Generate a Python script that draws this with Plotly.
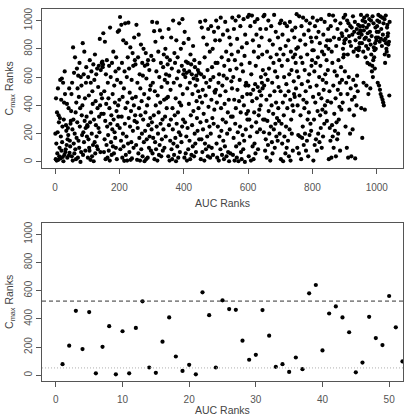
import plotly.graph_objects as go

# ---------------- DATA ----------------
# Top panel: Cmax ranks, in order of AUC rank, in blocks of AUC ranks
cmax_auc_0001_0050 = [200,20,450,130,10,350,60,210,520,15,330,280,40,100,310,580,25,180,440,80,590,140,250,35,560,5,300,420,50,640,480,70,90,260,220,120,410,30,160,240,190,380,45,520,65,150,110,270,290,360]
cmax_auc_0051_0100 = [480,40,560,230,10,810,300,130,630,60,200,740,90,350,20,420,170,660,280,520,30,610,150,460,100,700,250,380,0,600,70,540,330,190,400,840,50,210,620,140,780,290,450,80,240,560,670,320,180,260]
cmax_auc_0101_0150 = [250,30,600,160,470,100,80,720,280,15,560,350,640,200,40,500,410,120,690,5,300,580,140,760,60,430,260,620,180,110,660,380,90,530,240,680,320,210,870,400,70,650,480,340,700,450,710,670,690,910]
cmax_auc_0151_0200 = [340,70,500,160,850,290,20,620,410,120,720,250,30,560,190,450,80,680,380,10,950,270,600,140,330,50,700,230,480,110,780,300,60,540,210,420,170,640,100,740,360,20,580,260,920,400,320,660,930,440]
cmax_auc_0201_0250 = [240,1025,90,560,150,970,320,700,30,460,200,860,110,520,8,640,270,980,380,50,840,180,600,10,420,740,130,985,310,660,70,490,250,810,15,360,140,580,25,450,770,220,680,100,400,880,290,720,330,690]
cmax_auc_0251_0300 = [460,120,970,280,15,560,240,740,60,900,380,170,620,10,520,330,830,90,430,200,700,40,610,300,800,140,480,5,680,220,350,770,20,590,160,400,690,30,720,260,450,100,650,180,510,310,540,80,750,230]
cmax_auc_0301_0350 = [280,990,60,560,170,720,330,925,20,500,140,850,400,90,640,250,985,10,470,200,780,350,50,600,120,930,420,270,700,40,530,160,880,300,80,670,230,760,440,100,580,320,800,180,620,450,380,740,560,690]
cmax_auc_0351_0400 = [460,40,940,260,610,10,720,150,510,300,880,90,660,20,380,230,1000,130,560,50,770,330,700,170,450,5,860,270,590,110,740,350,30,640,210,980,420,70,540,190,800,400,140,680,250,1010,480,300,620,840]
cmax_auc_0401_0450 = [650,30,920,280,600,60,710,180,630,10,520,240,700,90,870,410,640,150,560,20,760,330,690,50,620,260,480,110,820,360,590,40,720,200,670,130,540,70,610,430,310,580,220,650,500,380,630,160,700,460]
cmax_auc_0451_0500 = [990,280,20,620,160,950,420,70,510,230,880,340,600,10,740,130,1000,470,90,560,290,830,180,650,40,940,390,110,530,250,780,30,580,200,960,440,100,670,310,800,50,600,270,920,370,500,490,860,700,510]
cmax_auc_0501_0550 = [1000,130,420,30,700,250,950,560,10,620,180,860,470,90,1020,380,220,740,50,540,300,900,150,610,20,680,410,110,990,500,280,780,40,590,200,930,350,70,720,440,5,880,230,650,60,830,320,570,760,520]
cmax_auc_0551_0600 = [1020,320,50,600,170,940,440,10,720,270,1000,380,110,660,30,870,510,210,780,5,1030,430,130,580,250,960,350,70,690,20,810,460,190,640,90,1010,400,150,750,0,900,540,230,560,340,840,480,300,1025,360]
cmax_auc_0601_0650 = [540,40,1040,300,700,180,960,480,10,620,250,1035,430,110,860,510,20,780,350,130,990,550,60,680,280,900,450,210,1010,530,90,740,330,820,370,500,230,940,400,600,470,880,560,760,520,650,300,1030,210,540]
cmax_auc_0651_0700 = [1040,300,80,620,160,940,440,30,780,290,580,120,1000,360,660,200,860,470,10,740,250,960,400,140,560,60,830,340,700,230,1040,500,100,640,270,920,420,180,760,310,600,150,880,380,530,290,720,200,980,800]
cmax_auc_0701_0750 = [500,20,1000,270,680,130,900,420,5,760,330,600,180,980,470,60,820,250,550,100,960,380,720,150,860,500,40,620,230,990,440,10,780,300,650,200,930,400,80,740,360,570,480,880,460,760,950,700,520,800]
cmax_auc_0751_0800 = [1045,640,100,400,810,190,600,60,1030,470,180,860,330,740,20,960,550,170,700,250,1020,440,120,900,380,650,200,830,500,80,1000,420,150,760,300,570,40,930,350,620,190,980,530,270,880,220,680,850,720,790]
cmax_auc_0801_0850 = [1020,460,10,790,300,640,120,960,420,700,160,880,540,80,1000,360,740,200,920,480,600,140,840,330,680,240,1010,450,100,780,370,580,180,900,510,760,270,990,400,620,350,820,560,720,290,860,430,650,940,800]
cmax_auc_0851_0900 = [20,1040,500,240,860,150,960,420,30,780,260,700,180,1035,540,100,880,340,640,220,1000,450,40,820,280,610,160,940,510,200,720,300,870,390,560,80,980,480,670,370,910,580,890,420,800,740,1020,760,840,860]
cmax_auc_0901_0950 = [640,1040,250,870,560,930,100,1000,480,760,30,980,600,890,370,850,200,960,520,820,40,950,440,900,230,1030,580,780,330,920,460,990,25,860,540,800,400,940,610,750,500,970,910,790,810,880,840,960,930,920]
cmax_auc_0951_1000 = [1040,380,900,840,170,1000,960,780,560,930,1020,870,370,990,740,880,820,540,950,1035,700,910,800,480,970,860,1010,690,920,520,830,1000,760,890,640,680,1030,600,720,980,810,740,790,660,840,950,800,880,860,920]
cmax_auc_1001_1040 = [960,1000,560,880,1040,920,540,990,850,510,1030,480,870,940,460,820,1020,440,900,420,980,400,860,1010,760,700,870,1035,840,800,780,950,970,890,910,830,750,850,470,990]

top_blocks = [
    (1, 50, cmax_auc_0001_0050), (51, 100, cmax_auc_0051_0100), (101, 150, cmax_auc_0101_0150),
    (151, 200, cmax_auc_0151_0200), (201, 250, cmax_auc_0201_0250), (251, 300, cmax_auc_0251_0300),
    (301, 350, cmax_auc_0301_0350), (351, 400, cmax_auc_0351_0400), (401, 450, cmax_auc_0401_0450),
    (451, 500, cmax_auc_0451_0500), (501, 550, cmax_auc_0501_0550), (551, 600, cmax_auc_0551_0600),
    (601, 650, cmax_auc_0601_0650), (651, 700, cmax_auc_0651_0700), (701, 750, cmax_auc_0701_0750),
    (751, 800, cmax_auc_0751_0800), (801, 850, cmax_auc_0801_0850), (851, 900, cmax_auc_0851_0900),
    (901, 950, cmax_auc_0901_0950), (951, 1000, cmax_auc_0951_1000), (1001, 1040, cmax_auc_1001_1040),
]

# Bottom panel
bottom_auc_ranks = [1,2,3,4,5,6,7,8,9,10,11,12,13,14,15,16,17,18,19,20,21,22,23,24,25,26,
                    27,28,29,30,31,32,33,34,35,36,37,38,39,40,41,42,43,44,45,46,47,48,49,50,51,52]
bottom_cmax_ranks = [79,210,457,186,448,14,202,348,7,312,14,336,524,55,17,238,410,133,31,74,7,588,426,55,531,469,
                     464,245,110,145,462,281,60,79,24,126,43,581,640,176,438,488,410,305,21,90,414,264,214,562,340,98]
upper_reference = 526
lower_reference = 52

top_x_ticks = [0, 200, 400, 600, 800, 1000]
bottom_x_ticks = [0, 10, 20, 30, 40, 50]
y_ticks = [0, 200, 400, 600, 800, 1000]

# ---------------- BUILD ----------------
top_auc, top_cmax = [], []
for start, end, block in top_blocks:
    n = len(block)
    span = end - start + 1
    for i, v in enumerate(block):
        top_auc.append(start + i * span / n)
        top_cmax.append(v)

FONT = "Liberation Sans, Arial, sans-serif"
TICKC = "#555555"
BOXC = "#555555"
TITLE_FONT = dict(family=FONT, size=10.5, color="#444444")

fig = go.Figure()
fig.add_trace(go.Scatter(x=top_auc, y=top_cmax, mode="markers",
                         marker=dict(color="black", size=4.2, line=dict(width=0)),
                         xaxis="x", yaxis="y", showlegend=False, hoverinfo="skip"))
fig.add_trace(go.Scatter(x=bottom_auc_ranks, y=bottom_cmax_ranks, mode="markers",
                         marker=dict(color="black", size=4.2, line=dict(width=0)),
                         xaxis="x2", yaxis="y2", showlegend=False, hoverinfo="skip"))

fig.add_shape(type="line", xref="x2 domain", yref="y2", x0=0, x1=1,
              y0=upper_reference, y1=upper_reference,
              line=dict(color="#333333", width=1, dash="4px,3px"))
fig.add_shape(type="line", xref="x2 domain", yref="y2", x0=0, x1=1,
              y0=lower_reference, y1=lower_reference,
              line=dict(color="#b0b0b0", width=1, dash="1px,2px"))

# bottom x-axis title placed right at the lower page edge
fig.add_annotation(text="AUC Ranks", xref="x2 domain", yref="paper", x=0.5, y=-0.0968,
                   yanchor="bottom", xanchor="center", showarrow=False, font=TITLE_FONT,
                   borderpad=0)

common_axis = dict(showline=True, mirror=True, linecolor=BOXC, linewidth=1,
                   showgrid=False, zeroline=False, ticks="outside", ticklen=5,
                   tickcolor=BOXC, tickwidth=1, automargin=False,
                   tickfont=dict(family=FONT, size=10, color=TICKC))

fig.update_layout(
    width=409, height=417,
    margin=dict(l=42, r=6, t=9, b=36),
    paper_bgcolor="white", plot_bgcolor="white",
    font=dict(family=FONT, color="#444444"),
    xaxis=dict(**common_axis, domain=[0, 1], anchor="y", range=[-40.6, 1081.6],
               tickmode="array", tickvals=top_x_ticks, ticklabelstandoff=5,
               title=dict(text="AUC Ranks", font=TITLE_FONT, standoff=7)),
    yaxis=dict(**common_axis, domain=[0.5734, 1], anchor="x", range=[-40.6, 1081.6],
               tickmode="array", tickvals=y_ticks, tickangle=-90,
               title=dict(text="C<sub>max</sub> Ranks", font=TITLE_FONT, standoff=7)),
    xaxis2=dict(**common_axis, domain=[0, 1], anchor="y2", range=[-2.08, 52.08],
                tickmode="array", tickvals=bottom_x_ticks, ticklabelstandoff=4),
    yaxis2=dict(**common_axis, domain=[0, 0.4255], anchor="x2", range=[-40.6, 1081.6],
                tickmode="array", tickvals=y_ticks, tickangle=-90,
                title=dict(text="C<sub>max</sub> Ranks", font=TITLE_FONT, standoff=7)),
)

fig.write_html("out.html")
